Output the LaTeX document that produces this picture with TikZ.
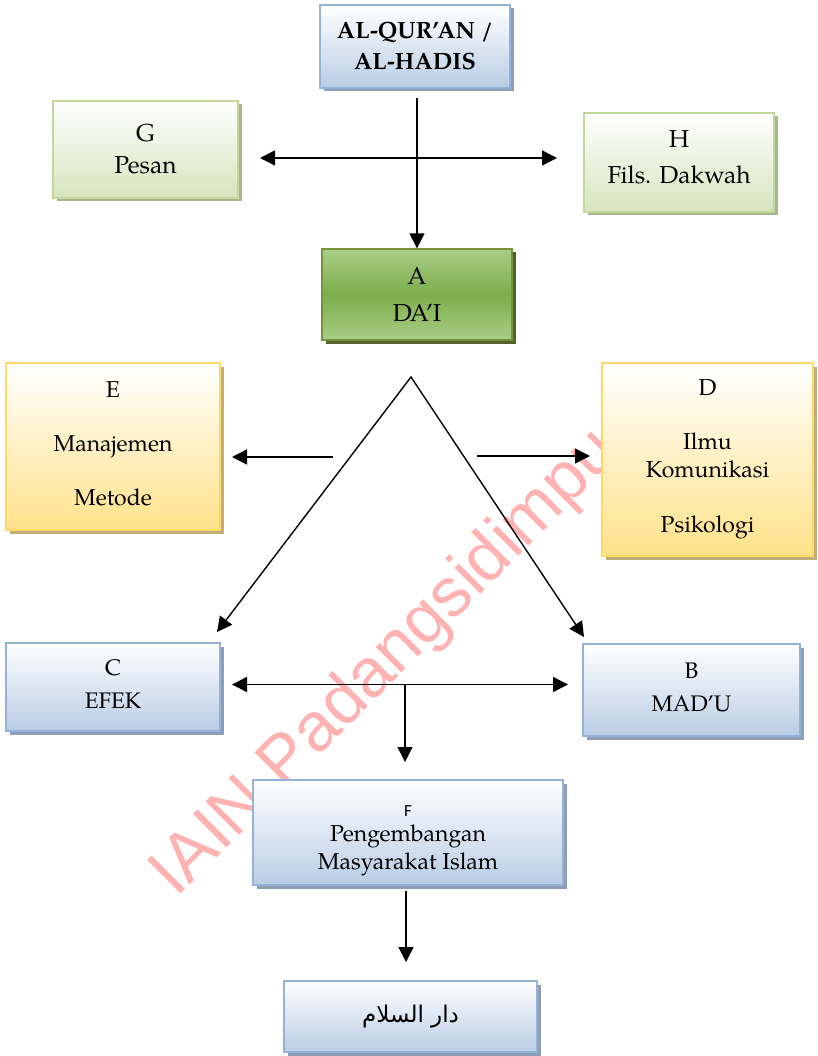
\documentclass[tikz,border=0pt]{standalone}
\usepackage{fontspec}
\setmainfont{TeX Gyre Pagella}
\newfontfamily\arabicfont[Script=Arabic]{DejaVu Sans}
\newfontfamily\wmfont{Liberation Sans}
\newfontfamily\sansF{Carlito}
\TeXXeTstate=1
\usetikzlibrary{arrows.meta,shadows}
\definecolor{bluebd}{HTML}{95B3D7}
\definecolor{bluebot}{HTML}{B9CDE5}
\definecolor{blueshd}{HTML}{8E9DB8}
\definecolor{gbd}{HTML}{C3D69B}
\definecolor{gbot}{HTML}{D7E4BD}
\definecolor{gshd}{HTML}{A7B78C}
\definecolor{dgbd}{HTML}{76923C}
\definecolor{dglight}{HTML}{A9CD86}
\definecolor{dgmid}{HTML}{7DAE4B}
\definecolor{dgshd}{HTML}{4F6228}
\definecolor{ybd}{HTML}{FFD966}
\definecolor{ybot}{HTML}{FFE28A}
\definecolor{yshd}{HTML}{BFB07A}
\tikzset{
  box/.style={rectangle, line width=1.3pt, align=center, inner sep=0pt, text=black},
  bluebox/.style={box, draw=bluebd, top color=white, bottom color=bluebot,
    drop shadow={shadow xshift=3.5pt, shadow yshift=-3.5pt, fill=blueshd, opacity=1}},
  lgreenbox/.style={box, draw=gbd, top color=white, bottom color=gbot,
    drop shadow={shadow xshift=3.5pt, shadow yshift=-3.5pt, fill=gshd, opacity=1}},
  dgreenbox/.style={box, draw=dgbd, top color=dglight, bottom color=dglight, middle color=dgmid,
    drop shadow={shadow xshift=3.5pt, shadow yshift=-3.5pt, fill=dgshd, opacity=1}},
  yellowbox/.style={box, draw=ybd, top color=white, bottom color=ybot,
    drop shadow={shadow xshift=3.5pt, shadow yshift=-3.5pt, fill=yshd, opacity=1}},
  arr/.style={line width=1.4pt, -{Triangle[length=15pt,width=15pt]}},
  darr/.style={line width=1.4pt, {Triangle[length=15pt,width=15pt]}-{Triangle[length=15pt,width=15pt]}},
}
\begin{document}
\begin{tikzpicture}[x=1pt,y=-1pt]
\useasboundingbox (0,0) rectangle (817,1056);
% watermark
\node[font=\wmfont\fontsize{69}{69}\selectfont, text=red!30, rotate=45, anchor=base west, inner sep=0pt] (wm) at (176,899) {IAIN Padangsidimpuan};
% boxes
\node[bluebox, minimum width=190pt, minimum height=83pt, font=\bfseries\fontsize{23.5}{31}\selectfont] (Q) at (415,46.5) {AL-QUR’AN /\\AL-HADIS};
\node[lgreenbox, minimum width=185pt, minimum height=97pt, font=\fontsize{24.5}{32}\selectfont] (G) at (145.5,149.5) {G\\Pesan};
\node[lgreenbox, minimum width=190pt, minimum height=99pt, font=\fontsize{24.5}{36}\selectfont] (H) at (679,162.5) {H\\Fils. Dakwah\rule[-11pt]{0pt}{1pt}};
\node[dgreenbox, minimum width=190pt, minimum height=91pt, font=\fontsize{24.5}{37}\selectfont] (A) at (417,294.5) {A\\DA’I};
\node[yellowbox, minimum width=214pt, minimum height=167pt, font=\fontsize{23}{54}\selectfont] (E) at (113,446.5) {E\\Manajemen\\Metode\rule[-5pt]{0pt}{1pt}};
\node[yellowbox, minimum width=211pt, minimum height=193pt, font=\fontsize{23}{28}\selectfont] (D) at (707.5,459.5) {D\\[26pt]Ilmu\\Komunikasi\\[27pt]Psikologi};
\node[bluebox, minimum width=214pt, minimum height=88pt, font=\fontsize{22.5}{33}\selectfont] (C) at (113,687) {C\\EFEK\rule[-5pt]{0pt}{1pt}};
\node[bluebox, minimum width=217pt, minimum height=92pt, font=\fontsize{22.5}{33}\selectfont] (B) at (691.5,690) {B\\MAD’U\rule[-5pt]{0pt}{1pt}};
\node[bluebox, minimum width=310pt, minimum height=105pt, font=\fontsize{23}{28}\selectfont] (F) at (408,832.5) {\rule{0pt}{27pt}{\sansF\fontsize{17}{20}\selectfont F}\\[-3pt]Pengembangan\\Masyarakat Islam};
\node[bluebox, minimum width=253pt, minimum height=71pt, font=\arabicfont\fontsize{23}{26}\selectfont] (S) at (410.5,1016.5) {\beginR دار السلام\endR};
% connectors
\coordinate (q1) at (417,98);
\draw[arr] (q1) -- (q1 |- A.north);
\coordinate (gl) at (260,158);
\coordinate (hr) at (557,158);
\draw[darr] (gl) -- (hr);
\coordinate (apex) at (411,377);
\coordinate (ct) at (217,632);
\coordinate (bt) at (584,637);
\draw[darr, line join=miter] (ct) -- (apex) -- (bt);
\coordinate (e1) at (333,457);
\coordinate (e2) at (232,457);
\draw[arr] (e1) -- (e2);
\coordinate (d1) at (477,456);
\coordinate (d2) at (590,456);
\draw[arr] (d1) -- (d2);
\coordinate (cb1) at (232,684.5);
\coordinate (cb2) at (568,684.5);
\draw[darr] (cb1) -- (cb2);
\coordinate (fj) at (405,684.5);
\coordinate (ft) at (405,762);
\draw[arr] (fj) -- (ft);
\coordinate (fs) at (406,891);
\coordinate (fd) at (406,962);
\draw[arr] (fs) -- (fd);
\end{tikzpicture}
\end{document}
